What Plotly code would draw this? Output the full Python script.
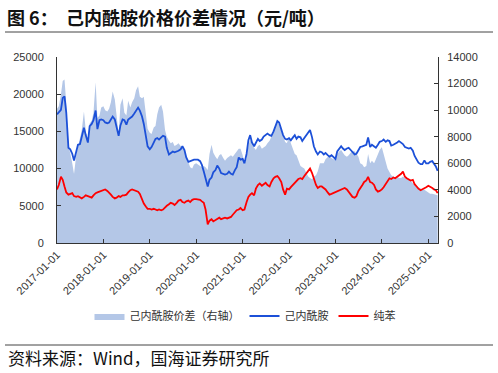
import pandas as pd
import plotly.graph_objects as go

# semi-monthly observation dates (1st and 15th of each month)
dates = pd.date_range("2017-01-01", "2025-03-15", freq="SMS")

caprolactam = [
    17300, 17600, 17900, 19500, 19700, 17500, 12800, 12600, 12000, 11100, 12300, 13200,
    13300, 14200, 15500, 14500, 13500, 15700, 16000, 16500, 17800, 15300, 16500, 16600,
    16500, 16200, 16100, 16200, 16700, 17000, 16600, 15500, 14400, 15800, 16600, 16500,
    15900, 16600, 16800, 17000, 17400, 17800, 18200, 17800, 17000, 16000, 14500, 13000,
    12600, 12900, 13500, 14000, 14100, 13900, 14200, 14400, 14300, 12800, 11900, 12100,
    12300, 12200, 12300, 12400, 12600, 13000, 12500, 11500, 10900, 11000, 11100, 11200,
    11200, 11200, 11000, 10500, 9600, 8600, 7600, 8500, 8800, 9500, 9800, 10400,
    10000, 9400, 9300, 9200, 9300, 9600, 9300, 9200, 9800, 10200, 11500, 11200,
    11300, 10700, 12000, 13800, 14500, 13500, 13000, 13400, 14000, 13700, 13900, 14300,
    14500, 14700, 14500, 14400, 15000, 15800, 16400, 16200, 15300, 14500, 14000, 13900,
    14100, 13800, 14200, 14500, 14000, 14300, 14200, 13700, 14100, 14400, 14900, 15200,
    14200, 13000, 12300, 11900, 12300, 12200, 11900, 12100, 11800, 11600, 11800, 11600,
    11300, 12300, 12700, 13000, 12700, 12500, 12700, 12800, 12500, 12200, 11900, 12000,
    12600, 12900, 13000, 13100, 13200, 14200, 12900, 13200, 13000, 12800, 13200, 13600,
    13700, 13900, 13600, 13800, 13700, 13100, 13200, 13300, 13500, 13700, 13500, 13300,
    12900, 12800, 12700, 12800, 12400, 11700, 11300, 10800, 10600, 10600, 11100, 10700,
    10700, 10900, 11000, 10600, 10300, 9700,
]

benzene = [
    7200, 7800, 8900, 8500, 7600, 6800, 6500, 6600, 6700, 6300, 6200, 6300,
    6100, 6000, 6200, 6400, 6300, 6200, 6100, 6400, 6700, 6800, 6900, 7000,
    7100, 7200, 7000, 6800, 6500, 6200, 6000, 6100, 6300, 6200, 6400, 6400,
    6500, 6800, 7100, 7200, 7100, 7000, 6900, 6600, 5800, 5300, 4900, 4600,
    4600, 4500, 4600, 4500, 4400, 4500, 4400, 4500, 4800, 5000, 5200, 5400,
    5300, 5100, 5400, 5700, 5800, 5500, 5400, 5600, 5700, 5500, 5800, 5900,
    5900, 5900, 5800, 5600, 5400, 4500, 2500, 3000, 3200, 2900, 3100, 3300,
    3400, 3200, 3300, 3400, 3300, 3400, 3500, 3800, 4100, 4400, 4500, 4700,
    4400, 4500, 5500, 6200, 6500, 6700, 6400, 7300, 7800, 8000, 7700, 7900,
    8100, 7800, 7600, 8200, 8700, 8900, 9000, 8700, 8200, 7200, 6500, 7300,
    7200, 7500, 7800, 8000, 8300, 8600, 8700, 8600, 9000, 9300, 9800, 10000,
    9400, 8500, 7800, 7400, 7600, 7600, 7400, 7200, 6800, 6500, 6600, 6700,
    6800, 6900, 7100, 7200, 7300, 7400, 7200, 6900, 6500, 6200, 6100, 6300,
    7000, 7300, 7800, 8200, 8400, 8900, 8200, 8100, 7800, 7200, 6900, 7000,
    7200, 7500, 8000, 8300, 8700, 8600, 8800, 8700, 8900, 9000, 9300, 9600,
    8900, 8700, 8500, 8400, 8500, 7900, 7600, 7300, 7100, 7200, 7400, 7500,
    7700, 7600, 7400, 7200, 7100, 6700,
]

spread = [
    10100, 10300, 11200, 12200, 12300, 10500, 7200, 6800, 6000, 5200, 6600, 7300,
    7800, 8500, 9900, 8500, 7500, 9000, 9200, 9800, 12100, 9400, 9600, 10200,
    10300, 10000, 9900, 10100, 10600, 11400, 10800, 9500, 8200, 10400, 10900, 9800,
    9600, 10700, 10200, 10600, 10900, 11500, 11800, 11000, 10900, 11000, 9500, 8600,
    8300, 8200, 8700, 8800, 9700, 10200, 10400, 9900, 8500, 8000, 7700, 7500,
    7600, 7300, 7400, 7500, 7300, 7200, 6900, 6500, 6000, 5700, 5600, 5900,
    6000, 5900, 5800, 5700, 5800, 5700, 5500, 6700, 7400, 6800, 6500, 6300,
    6600, 6700, 6400, 6200, 6400, 6500, 6600, 6500, 6700, 6900, 7100, 7100,
    6600, 5900, 6400, 7300, 7800, 7400, 7200, 7000, 7300, 7400, 7100, 7200,
    7300, 7500, 7700, 8000, 8300, 8800, 9200, 8900, 8400, 7900, 7600, 7500,
    8000, 7500, 7100, 6700, 6600, 6300, 5800, 5700, 5600, 5300, 5000, 4900,
    4800, 5000, 5100, 5400, 6000, 6000, 6000, 6300, 6500, 6600, 6400, 6300,
    6300, 6700, 6900, 7000, 6800, 6600, 6500, 6600, 6800, 6900, 6900, 6700,
    6500, 6000, 5900, 5700, 5800, 6700, 6000, 6200, 6000, 6300, 6700, 7000,
    7200, 6600, 6100, 5600, 5300, 5100, 5000, 4900, 5000, 4900, 4900, 5000,
    4900, 4900, 4800, 4700, 4500, 4400, 4300, 4200, 4100, 4000, 4000, 3900,
    3800, 3700, 3700, 3650, 3600, 3600,
]

year_ticks = ["2017-01-01", "2018-01-01", "2019-01-01", "2020-01-01", "2021-01-01",
              "2022-01-01", "2023-01-01", "2024-01-01", "2025-01-01"]

W, H = 498, 373
L, R, T, B = 57, 438, 57, 243


def px(x):
    return (x - L) / (R - L)


def py(y):
    return (B - y) / (B - T)


AX = "#333333"
NUM_FONT = dict(family="Arial, Liberation Sans, sans-serif", size=11, color="#333333")
CJK = "Noto Sans CJK SC, sans-serif"

fig = go.Figure()
fig.add_trace(go.Scatter(
    x=dates, y=spread, name="己内酰胺价差（右轴）", mode="lines",
    line=dict(width=0, color="#b4c7e7"), fill="tozeroy", fillcolor="#b4c7e7",
    yaxis="y"))
fig.add_trace(go.Scatter(
    x=dates, y=caprolactam, name="己内酰胺", mode="lines",
    line=dict(color="#1c50d8", width=1.8), yaxis="y2"))
fig.add_trace(go.Scatter(
    x=dates, y=benzene, name="纯苯", mode="lines",
    line=dict(color="#ff0000", width=1.8), yaxis="y2"))

axis_common = dict(showline=True, linecolor=AX, linewidth=1, showgrid=False,
                   zeroline=False, ticks="inside", ticklen=4, tickcolor=AX,
                   tickfont=NUM_FONT, automargin=False)

fig.update_layout(
    width=W, height=H,
    margin=dict(l=L, r=W - R, t=T, b=H - B),
    paper_bgcolor="white", plot_bgcolor="white",
    xaxis=dict(type="date", range=["2017-01-01", "2025-03-18"],
               tickvals=year_ticks, ticktext=year_ticks, tickangle=-45,
               **axis_common),
    yaxis=dict(side="right", range=[0, 14000], dtick=2000, tickformat="d",
               ticklabelstandoff=6, **axis_common),
    yaxis2=dict(side="left", overlaying="y", range=[0, 25000], dtick=5000,
                tickformat="d", ticklabelstandoff=10, **axis_common),
    legend=dict(orientation="h", x=px(245), xanchor="center", y=py(316),
                yanchor="middle", font=dict(family=CJK, size=11, color="#333333"),
                itemwidth=30, bgcolor="rgba(0,0,0,0)"),
    annotations=[
        dict(text="<b>图 6：  己内酰胺价格价差情况（元/吨）</b>", xref="paper", yref="paper",
             x=px(5), y=py(17), xanchor="left", yanchor="middle", showarrow=False,
             font=dict(family=CJK, size=18, color="#111111")),
        dict(text="资料来源：Wind，国海证券研究所", xref="paper", yref="paper",
             x=px(6), y=py(357), xanchor="left", yanchor="middle", showarrow=False,
             font=dict(family=CJK, size=17, color="#111111")),
    ],
    shapes=[
        dict(type="line", xref="paper", yref="paper", x0=px(5), x1=px(493),
             y0=py(32), y1=py(32), line=dict(color="#444444", width=1)),
        dict(type="line", xref="paper", yref="paper", x0=px(5), x1=px(493),
             y0=py(345), y1=py(345), line=dict(color="#444444", width=1)),
    ],
)

fig.write_html(
    "out.html",
    config={"displayModeBar": False},
    post_script="document.body.style.margin='0';document.body.style.overflow='hidden';",
)
